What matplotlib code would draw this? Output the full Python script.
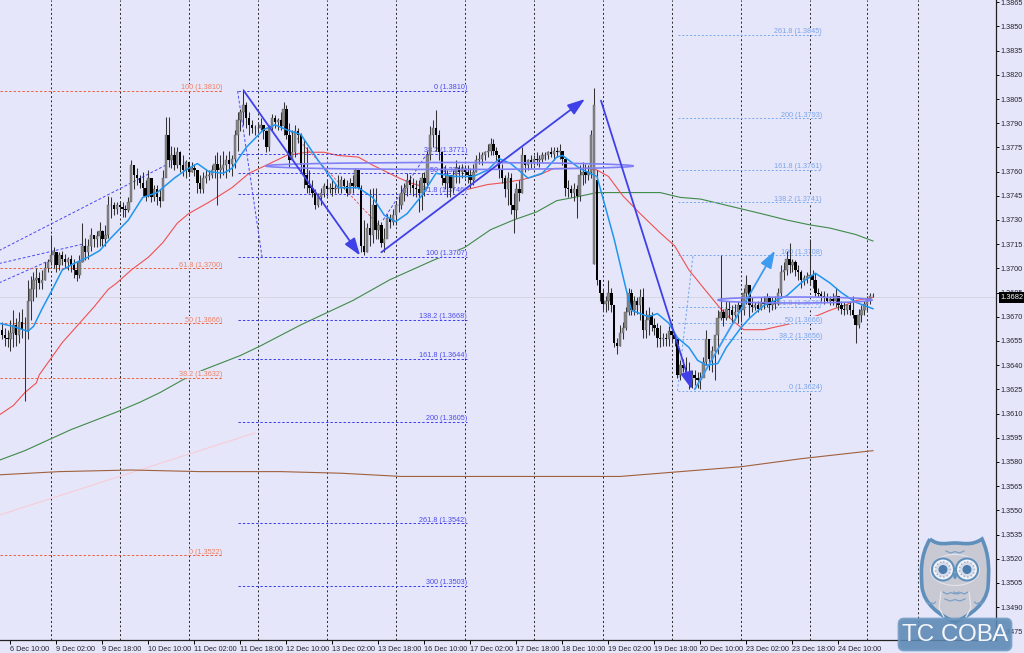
import matplotlib
matplotlib.use("Agg")
import matplotlib.pyplot as plt
import numpy as np
from matplotlib.patches import Ellipse, FancyBboxPatch, PathPatch, Circle
from matplotlib.path import Path

plt.rcParams["font.family"] = ["Liberation Sans", "DejaVu Sans"]

BG = "#E6E6FA"

# H1 candles, in pips above 1.3000, one row per trading day
opens = [
    664,662,659,657,656,660,665,659,667,662,661,680,687,693,694,691,693,700,
    704,708,710,702,708,706,704,706,702,699,696,704,714,710,714,721,718,720,723,718,721,739,739,737,
    739,738,737,736,741,764,758,756,753,750,745,756,744,749,744,742,756,783,767,770,764,772,764,761,
    766,760,762,761,753,749,756,757,758,761,765,761,762,764,767,765,768,783,792,797,801,793,789,787,
    787,787,789,785,775,787,793,791,792,788,799,783,767,772,785,783,764,758,752,750,747,739,744,747,
    751,749,750,749,750,750,755,751,747,753,751,761,750,714,710,725,721,739,724,727,716,718,731,729,
    733,739,739,747,750,755,752,750,749,747,756,753,770,783,787,783,772,756,753,758,750,758,762,760,
    761,760,758,755,760,767,768,770,772,773,777,773,770,761,756,749,756,739,736,749,747,770,764,767,
    766,768,767,768,770,770,772,771,773,772,773,768,750,749,747,749,745,758,760,758,760,703,755,693,
    685,678,680,685,677,654,652,660,663,673,685,674,680,677,682,662,668,671,665,663,657,656,657,656,
    661,659,656,634,640,638,636,631,634,632,631,632,642,656,644,649,659,669,673,669,675,674,671,673,
    677,674,685,690,677,676,677,675,679,678,682,677,680,678,685,698,699,706,702,704,699,698,693,694,
    695,696,693,685,684,683,682,680,681,680,683,677,675,674,677,674,671,665,671,674,678,681,683,
]
highs = [
    665,667,663,662,668,674,669,673,675,670,693,695,698,700,698,699,704,706,
    721,713,710,710,711,709,707,708,706,704,708,728,719,718,725,721,723,729,724,727,745,744,741,741,
    742,741,739,744,767,764,762,758,760,755,761,753,752,752,749,761,794,794,776,775,775,773,770,767,
    766,766,765,761,758,760,761,761,764,770,772,770,773,770,773,770,786,797,799,811,803,797,792,789,
    791,793,789,786,789,796,795,793,797,803,801,790,786,789,787,784,780,775,761,755,749,747,750,753,
    755,753,755,753,758,757,756,755,756,758,762,761,752,730,728,749,750,750,730,729,725,734,734,737,
    742,745,752,753,759,758,756,755,755,759,760,773,788,792,798,786,773,764,761,758,761,767,764,765,
    764,764,762,765,770,772,772,773,777,781,780,775,770,765,758,760,759,747,753,755,775,770,768,770,
    770,772,770,772,772,773,775,775,775,777,773,768,755,752,753,752,764,766,765,764,786,812,761,693,
    687,683,693,688,677,657,665,667,676,688,687,683,682,687,688,674,676,673,669,666,665,660,660,664,
    664,659,656,643,644,645,642,637,637,636,636,645,662,652,652,656,674,708,675,680,680,677,678,680,
    683,688,696,690,682,679,680,682,683,685,683,682,683,688,702,704,711,716,706,705,702,699,696,698,
    718,699,697,688,686,686,685,683,685,688,683,680,679,678,680,683,671,675,677,680,683,685,685,
]
lows = [
    656,656,652,651,649,651,652,654,657,618,656,668,680,682,687,687,693,698,
    702,700,698,699,702,700,699,698,694,692,694,704,705,706,711,713,713,714,714,714,719,731,733,734,
    735,732,732,735,745,749,752,750,745,742,744,741,742,739,738,745,761,763,762,761,762,760,757,756,
    757,760,757,747,747,747,753,755,756,756,739,756,758,756,760,757,762,773,785,789,787,783,784,783,
    784,786,780,772,773,786,787,786,786,783,780,763,767,769,778,760,750,747,747,744,737,738,739,744,
    745,747,745,747,747,747,749,745,747,747,750,749,710,708,710,714,716,718,718,713,710,721,725,727,
    727,735,737,742,745,747,745,744,735,736,745,750,767,775,773,767,752,749,744,744,747,753,753,756,
    756,753,750,752,760,765,764,767,769,770,770,766,756,753,744,739,734,722,731,742,747,760,761,762,
    764,764,763,766,767,768,769,767,769,768,764,745,744,744,742,731,742,752,753,755,756,703,690,680,
    674,673,674,673,651,647,652,656,662,671,671,671,672,668,657,657,659,661,659,651,651,652,652,652,
    654,652,632,631,636,633,625,626,628,626,625,634,640,637,636,631,647,668,664,668,669,666,668,666,
    667,671,678,670,673,674,673,674,675,676,673,674,675,677,682,693,696,697,698,695,693,688,690,691,
    690,688,683,682,680,678,679,677,677,676,674,672,671,672,671,669,654,663,667,671,673,678,682,
]
closes = [
    662,659,657,656,660,665,659,667,662,661,680,687,693,694,691,693,700,704,
    708,710,702,708,706,704,706,702,699,696,704,714,710,714,721,718,720,723,718,721,739,739,737,739,
    738,737,736,741,764,758,756,753,750,745,756,744,749,744,742,756,783,767,770,764,772,764,761,766,
    760,762,761,753,749,756,757,758,761,765,761,762,764,767,765,768,783,792,797,801,793,789,787,787,
    787,789,785,775,787,793,791,792,788,799,783,767,772,785,783,764,758,752,750,747,739,744,747,751,
    749,750,749,750,750,755,751,747,753,751,761,750,714,710,725,721,739,724,727,716,718,731,729,733,
    739,739,747,750,755,752,750,749,747,756,753,770,783,787,783,772,756,753,758,750,758,762,760,761,
    760,758,755,760,767,768,770,772,773,777,773,770,761,756,749,756,739,736,749,747,770,764,767,766,
    768,767,768,770,770,772,771,773,772,773,768,750,749,747,749,745,758,760,758,760,783,801,693,685,
    678,680,685,677,654,652,660,663,673,685,674,680,677,682,662,668,671,665,663,657,656,657,656,661,
    659,656,634,640,638,636,631,634,632,631,632,642,656,644,649,659,669,673,669,675,674,671,673,677,
    674,685,690,677,676,677,675,679,678,682,677,680,678,685,698,699,706,702,704,699,698,693,694,695,
    696,693,685,684,683,682,680,681,680,683,677,675,674,677,674,671,665,671,674,678,681,683,683,
]

# moving averages: bar number and value in pips
ma_fast_bars = [0,5,10,12,15,18,22,26,31,35,39,45,50,55,57,61,65,69,73,78,81,86,92,96,100,105,111,118,125,130,134,138,142,147,152,158,165,170,174,178,184,189,194,196,202,208,210,214,218,220,223,226,229,233,236,240,243,246,250,253,258,261,266,274,279,284,289,293,298,304]
ma_fast = [666,664,661,664,675,685,699,703,707,711,719,730,744,747,750,756,761,765,760,759,762,775,786,789,786,783,767,750,750,744,733,729,734,745,759,757,757,761,768,765,756,759,769,770,762,757,744,718,688,674,672,670,672,666,657,651,643,640,641,651,663,669,677,683,691,697,691,685,679,675]
ma_mid_bars = [0,5,9,13,14,18,22,28,33,38,41,46,52,57,62,66,73,81,87,93,100,107,113,118,125,130,138,143,151,163,170,175,182,188,193,198,205,208,212,217,223,230,235,240,245,251,255,259,266,271,276,285,289,294,298,304]
ma_mid = [609,615,623,629,634,644,654,666,676,687,691,699,707,716,728,734,741,750,759,764,770,772,772,770,769,764,757,753,749,749,752,753,755,758,762,762,762,761,757,745,734,722,714,699,688,675,668,662,662,664,666,671,674,677,680,682]
ma_slow_bars = [0,9,25,41,49,56,64,71,84,91,105,123,136,151,162,171,179,187,194,200,208,215,223,230,237,244,251,258,265,274,282,289,298,304]
ma_slow = [581,587,600,611,617,623,631,637,646,652,665,680,693,705,713,724,730,735,742,744,747,747,747,747,744,743,740,737,734,730,727,725,721,717]
ma_long_bars = [0,21,46,70,98,119,140,167,195,216,237,258,279,304]
ma_long = [572,574,575,574,574,573,571,571,571,571,574,577,582,587]

# fibonacci retracements
fib_red_labels = ["100 (1.3810)", "61.8 (1.3700)", "50 (1.3666)", "38.2 (1.3632)", "0 (1.3522)"]
fib_red = [810, 700, 666, 632, 522]
fib_blue_labels = ["0 (1.3810)", "38.2 (1.3771)", "50 (1.3759)", "61.8 (1.3746)", "100 (1.3707)",
                   "138.2 (1.3668)", "161.8 (1.3644)", "200 (1.3605)", "261.8 (1.3542)", "300 (1.3503)"]
fib_blue = [810, 771, 759, 746, 707, 668, 644, 605, 542, 503]
fib_sky_labels = ["0 (1.3624)", "38.2 (1.3656)", "50 (1.3666)", "61.8 (1.3676)", "100 (1.3708)",
                  "138.2 (1.3741)", "161.8 (1.3761)", "200 (1.3793)", "261.8 (1.3845)"]
fib_sky = [624, 656, 666, 676, 708, 741, 761, 793, 845]

# time axis
time_labels = ["6 Dec 10:00", "9 Dec 02:00", "9 Dec 18:00", "10 Dec 10:00", "11 Dec 02:00", "11 Dec 18:00",
               "12 Dec 10:00", "13 Dec 02:00", "13 Dec 18:00", "16 Dec 10:00", "17 Dec 02:00", "17 Dec 18:00",
               "18 Dec 10:00", "19 Dec 02:00", "19 Dec 18:00", "20 Dec 10:00", "23 Dec 02:00", "23 Dec 18:00",
               "24 Dec 10:00"]
time_ticks = list(range(4, 4 + 16 * len(time_labels), 16))
day_lines = list(range(18, 283, 24)) + [302, 319.5]
price_ticks = np.arange(1.3475, 1.38651, 0.0015)


def pr(pips):
    return 1.3 + np.asarray(pips, dtype=float) / 1e4


fig = plt.figure(figsize=(10.24, 6.53), dpi=100, facecolor=BG)
ax = fig.add_axes([0, 13 / 653, 996 / 1024, 640 / 653], facecolor=BG)
ax.set_xlim(0.348, 346.8)
ax.set_ylim(pr(469.6), pr(866.4))

for side in ["left", "top"]:
    ax.spines[side].set_visible(False)
for side in ["right", "bottom"]:
    ax.spines[side].set_color("#222222")
    ax.spines[side].set_linewidth(0.9)

ax.yaxis.tick_right()
ax.set_yticks(price_ticks)
ax.set_yticklabels(["%.4f" % p for p in price_ticks])
ax.set_xticks(time_ticks)
ax.set_xticklabels(time_labels, ha="left")
ax.tick_params(axis="y", labelsize=5.2, length=2, width=0.7, pad=1, labelcolor="#22222e")
ax.tick_params(axis="x", labelsize=5.2, length=3, width=0.7, pad=1.5, labelcolor="#22222e")

ax.vlines(day_lines, pr(469.6), pr(866.4), color="#222222", lw=0.7, ls=(0, (2, 2.5)), zorder=1)
ax.axhline(pr(682), color="#d4d4dc", lw=0.6, zorder=1)

# faint pink trend line and the dashed helper lines
ax.plot([0, 89], pr([547, 598]), color="#f6cdd4", lw=0.8, zorder=1)
for xs, ys in [([0, 58], [711, 764]), ([0, 29], [703, 715]), ([0, 17.7], [691, 705]),
               ([83, 91.5], [810, 707]), ([133.6, 149.2], [730, 772])]:
    ax.plot(xs, pr(ys), color="#4a4af0", lw=0.7, ls=(0, (3, 2)), zorder=2)
ax.plot([97.7, 132.5], pr([792, 726]), color="#ee4444", lw=0.6, ls=(0, (3, 2)), zorder=2)
ax.plot([236, 241.4], pr([624, 708]), color="#78a8ee", lw=0.8, ls=(0, (2, 2)), zorder=2)

# moving averages
ax.plot(ma_long_bars, pr(ma_long), color="#a0603c", lw=0.8, zorder=2)
ax.plot(ma_slow_bars, pr(ma_slow), color="#3f8a48", lw=0.8, zorder=2)
ax.plot(ma_mid_bars, pr(ma_mid), color="#f05050", lw=0.8, zorder=2)
ax.plot(ma_fast_bars, pr(ma_fast), color="#1e96f0", lw=1.1, zorder=4.5)


def draw_fib(levels, labels, x0, x1, line_color, text_color, ls):
    # the labels mask the averages underneath, the level lines stay on top of them
    ax.hlines(pr(levels), x0, x1, color=line_color, lw=0.7, ls=ls, zorder=3.5)
    for lev, lab in zip(levels, labels):
        ax.annotate(lab, (x1, pr(lev)), xytext=(0, -0.2), textcoords="offset points",
                    ha="right", va="bottom", fontsize=5.2, color=text_color, zorder=3,
                    bbox=dict(facecolor=BG, edgecolor="none", pad=0.1))


draw_fib(fib_red, fib_red_labels, 0.348, 77.6, "#f0603c", "#f08060", (0, (2.5, 2)))
draw_fib(fib_blue, fib_blue_labels, 83, 162.8, "#3c3cf0", "#4a4af0", (0, (2.5, 2)))
draw_fib(fib_sky, fib_sky_labels, 236.2, 286.3, "#78a8ee", "#7aa4e8", (0, (2, 2)))

# candles
bars = np.arange(len(closes))
o, h, l, c = pr(opens), pr(highs), pr(lows), pr(closes)
up = c >= o
ax.vlines(bars, l, h, color="#333333", lw=0.75, zorder=4)
ax.bar(bars[up], (c - o)[up], bottom=o[up], width=0.85, color="#858585", edgecolor="#5c5c5c", linewidth=0.3, zorder=4.1)
ax.bar(bars[~up], (o - c)[~up], bottom=c[~up], width=0.85, color="#000000", linewidth=0, zorder=4.1)

# ellipses
ax.add_patch(Ellipse((156.7, pr(763.5)), 128, 4.3e-4, fill=False, ec="#8080f6", lw=1.2, zorder=4.6))
ax.add_patch(Ellipse((276.9, pr(680.4)), 53.6, 3.7e-4, fill=False, ec="#8080f6", lw=1.2, zorder=4.6))

# arrows
for x0, y0, x1, y1, col in [(85.2, 810, 125.6, 708, "#4040e8"), (133, 710, 203.8, 805, "#4040e8"),
                            (209.4, 804, 241, 625, "#4040e8"), (242, 625, 269.9, 711, "#3d9bf0")]:
    ax.annotate("", xy=(x1, pr(y1)), xytext=(x0, pr(y0)), zorder=5,
                arrowprops=dict(arrowstyle="-|>,head_length=0.75,head_width=0.26", color=col, lw=1.3,
                                shrinkA=0, shrinkB=0, mutation_scale=14))

# current price tag
ax.annotate("1.3682", xy=(1.0, pr(682)), xycoords=("axes fraction", "data"), xytext=(3.5, 0),
            textcoords="offset points", va="center", ha="left", fontsize=5.4, color="white", zorder=10,
            annotation_clip=False, bbox=dict(facecolor="black", edgecolor="none", pad=1.6))

# logo layer, in image pixels
lg = fig.add_axes([0, 0, 1, 1], facecolor="none")
lg.set_xlim(0, 1024)
lg.set_ylim(653, 0)
lg.axis("off")

M, C4, L = Path.MOVETO, Path.CURVE4, Path.LINETO
owl_v = [(930, 539), (938, 546), (947, 543), (955, 543), (963, 543), (972, 546), (982, 539),
         (990, 556), (989, 572), (988, 587), (986, 604), (971, 615), (955, 622),
         (939, 615), (924, 604), (922, 587), (921, 572), (920, 556), (930, 539), (930, 539)]
owl_c = [M, C4, C4, C4, C4, C4, C4, C4, C4, C4, C4, C4, C4, C4, C4, C4, C4, C4, C4, L]
lg.add_patch(PathPatch(Path(owl_v, owl_c), fc="#c9c9d3", ec="#5f8fbb", lw=2.6, zorder=1))
lg.add_patch(Ellipse((955, 570), 49, 31, fc="none", ec="#e4e4ee", lw=0.8, zorder=2))
for ex in (943, 967):
    lg.add_patch(Circle((ex, 569.5), 11, fc="#f2f2f8", ec="#5f8fbb", lw=1.5, zorder=3))
    lg.add_patch(Circle((ex, 569.5), 7.5, fc="#d8dcea", ec="#9ab0cc", lw=1, ls=":", zorder=3))
    lg.add_patch(Circle((ex, 569.5), 4.5, fc="#4a7cae", ec="none", zorder=4))
lg.add_patch(Ellipse((955, 576), 3.5, 6, fc="#5f8fbb", ec="none", zorder=4))
for cx, cy, w in [(955, 551, 18), (951, 592, 16), (961, 592, 14), (955, 599, 20), (931, 602, 9), (979, 602, 9)]:
    xs = np.array([-1, -0.5, 0, 0.5, 1]) * w / 2 + cx
    ys = cy + np.array([0, 2, 0.6, 2, 0])
    lg.plot(xs, ys, color="#7aa0c8", lw=0.9, zorder=4)
for xs in ([941, 939, 944], [969, 971, 966]):
    lg.plot(xs, [592, 608, 617], color="#e6e6ee", lw=0.9, zorder=4)

lg.add_patch(FancyBboxPatch((899, 619), 112, 31, boxstyle="round,pad=0,rounding_size=5", fc="#5b88b3", ec="#6f98c0",
                            lw=2, alpha=0.88, zorder=5))
lg.text(955, 635, "ТС СОВА", color="#f4f6fb", fontsize=17.5, ha="center", va="center", zorder=6)

fig.savefig("out.png", dpi=100, facecolor=BG)
